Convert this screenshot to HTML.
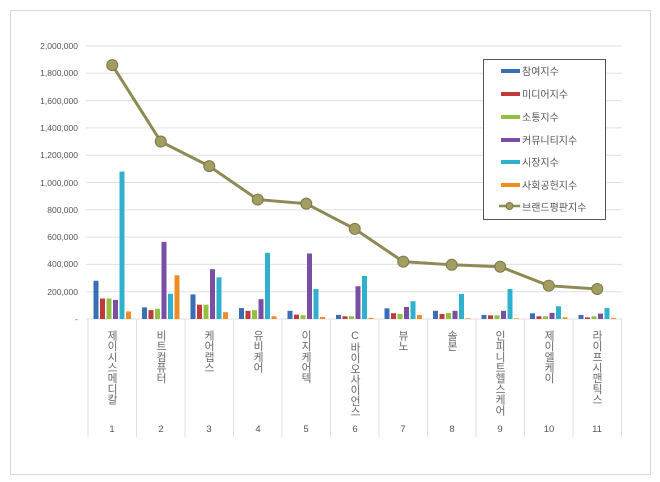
<!DOCTYPE html>
<html><head><meta charset="utf-8"><style>
body{margin:0;background:#fff;width:660px;height:482px;overflow:hidden;font-family:"Liberation Sans","Noto Sans CJK KR",sans-serif}
.v{position:absolute;top:330px;writing-mode:vertical-rl;text-orientation:upright;font-size:10.7px;color:#666;width:14px;margin-left:-7px;line-height:14px;letter-spacing:0px;font-family:"Liberation Sans","Noto Sans CJK KR",sans-serif}
</style></head><body>
<div style="position:absolute;left:10px;top:10px;width:639px;height:463px;border:1px solid #d9d9d9"></div>
<svg id="s" width="660" height="482" style="position:absolute;left:0;top:0" font-family="Liberation Sans, sans-serif">
<g stroke="#e0e0e0" stroke-width="1" id="grid"></g>
<g font-size="8.5" fill="#555" text-anchor="end">
<text x="78" y="49">2,000,000</text><text x="78" y="76">1,800,000</text><text x="78" y="104">1,600,000</text><text x="78" y="131">1,400,000</text><text x="78" y="158">1,200,000</text><text x="78" y="186">1,000,000</text><text x="78" y="213">800,000</text><text x="78" y="240">600,000</text><text x="78" y="267">400,000</text><text x="78" y="295">200,000</text><text x="78" y="322">-</text>
</g>
<g id="bars"></g>
<g id="line"></g>
<g font-size="9.5" fill="#555" text-anchor="middle">
<text x="112" y="432">1</text><text x="161" y="432">2</text><text x="209" y="432">3</text><text x="258" y="432">4</text><text x="306" y="432">5</text><text x="355" y="432">6</text><text x="403" y="432">7</text><text x="452" y="432">8</text><text x="500" y="432">9</text><text x="549" y="432">10</text><text x="597" y="432">11</text>
</g>
<rect x="483.5" y="59.5" width="122" height="160" fill="#fff" stroke="#555"/>
<g font-size="10" fill="#555" font-family="Liberation Sans, Noto Sans CJK KR, sans-serif">
<rect x="501" y="69" width="19" height="4" fill="#3a6fb5"/><text x="522" y="75">참여지수</text>
<rect x="501" y="92" width="19" height="4" fill="#c0393b"/><text x="522" y="98">미디어지수</text>
<rect x="501" y="115" width="19" height="4" fill="#94c041"/><text x="522" y="121">소통지수</text>
<rect x="501" y="138" width="19" height="4" fill="#7a4fa3"/><text x="522" y="144">커뮤니티지수</text>
<rect x="501" y="160" width="19" height="4" fill="#2fb0cc"/><text x="522" y="166">시장지수</text>
<rect x="501" y="183" width="19" height="4" fill="#ef8c25"/><text x="522" y="189">사회공헌지수</text>
<line x1="499" y1="206" x2="520" y2="206" stroke="#8f8a55" stroke-width="2.5"/><circle cx="509.5" cy="206" r="3.5" fill="#a39d62" stroke="#7d784a"/><text x="522" y="211">브랜드평판지수</text>
</g>
</svg>
<div class="v" style="left:112px">제이시스메디칼</div>
<div class="v" style="left:161px">비트컴퓨터</div>
<div class="v" style="left:209px">케어랩스</div>
<div class="v" style="left:258px">유비케어</div>
<div class="v" style="left:306px">이지케어텍</div>
<div class="v" style="left:355px">C바이오사이언스</div>
<div class="v" style="left:403px">뷰노</div>
<div class="v" style="left:452px">솔본</div>
<div class="v" style="left:500px">인피니트헬스케어</div>
<div class="v" style="left:549px">제이엘케이</div>
<div class="v" style="left:597px">라이프시맨틱스</div>
<script>
var ns="http://www.w3.org/2000/svg";
function el(p,t,a){var e=document.createElementNS(ns,t);for(var k in a)e.setAttribute(k,a[k]);document.getElementById(p).appendChild(e);return e;}
var base=319,sc=273/2000000,x0=88,w=48.5;
for(var i=0;i<=10;i++){var y=base-i*27.3;el("grid","line",{x1:86,x2:622,y1:y,y2:y});}
for(var i=0;i<=11;i++){var x=x0+i*w;el("grid","line",{x1:x,x2:x,y1:319,y2:437});}
var d=[[280,150,150,140,1080,55],[85,65,75,565,185,320],[180,105,105,365,305,50],[80,60,65,145,485,20],[60,32,28,480,220,15],[30,20,20,240,315,8],[78,42,37,88,130,30],[60,37,45,60,183,5],[30,27,27,60,220,5],[42,20,20,45,93,12],[30,12,20,40,80,8]];
var c=["#3a6fb5","#c0393b","#94c041","#7a4fa3","#2fb0cc","#ef8c25"];
var L=[1860,1300,1120,875,845,660,420,397,383,244,220];
d.forEach(function(g,i){g.forEach(function(v,j){var h=v*1000*sc;el("bars","rect",{x:x0+i*w+5.5+j*6.5,y:base-h,width:5,height:h,fill:c[j]});});});
var pts=L.map(function(v,i){return (x0+(i+0.5)*w)+","+(base-v*1000*sc);}).join(" ");
el("line","polyline",{points:pts,fill:"none",stroke:"#8f8a55","stroke-width":3});
L.forEach(function(v,i){el("line","circle",{cx:x0+(i+0.5)*w,cy:base-v*1000*sc,r:5.5,fill:"#a39d62",stroke:"#7d784a"});});
</script>
</body></html>
